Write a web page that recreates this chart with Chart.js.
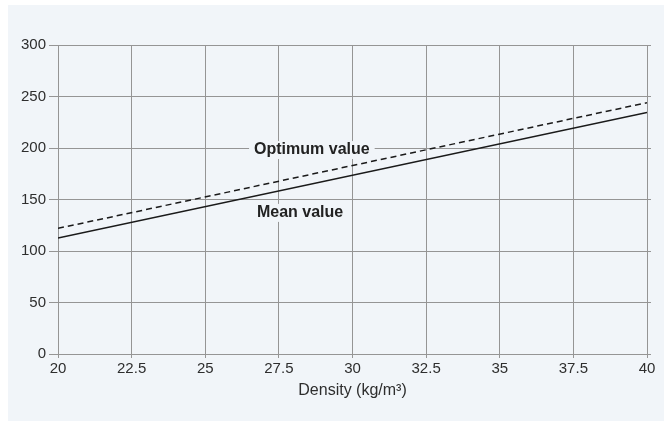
<!DOCTYPE html>
<html lang="en">
<head>
    <meta charset="UTF-8">
    <title>Density chart</title>
    <script src="https://cdn.jsdelivr.net/npm/chart.js"></script>
    <style>
        body {
            margin: 0;
            background: #ffffff;
        }
        canvas {
            display: block;
        }
    </style>
</head>
<body>
    <canvas id="densityChart" width="672" height="421"></canvas>

    <script>
        // Data
        const densities = [20, 40];
        const optimumValues = [122, 244];
        const meanValues = [112.5, 234.5];

        const xTicks = [20, 22.5, 25, 27.5, 30, 32.5, 35, 37.5, 40];
        const yTicks = [0, 50, 100, 150, 200, 250, 300];

        // Text labels placed in data units
        const lineLabels = [
            { text: 'Optimum value', x: 28.62, y: 198 },
            { text: 'Mean value', x: 28.22, y: 137 }
        ];

        const panelColor = '#f1f5f9';
        const gridColor = '#959595';
        const textColor = '#2e2e2e';

        // Light panel behind the whole chart
        const panelPlugin = {
            id: 'panel',
            beforeDraw(chart) {
                const ctx = chart.ctx;
                ctx.save();
                ctx.fillStyle = panelColor;
                ctx.fillRect(8, 5, 656, 416);
                ctx.restore();
            }
        };

        // Bold labels next to the lines
        const labelPlugin = {
            id: 'lineLabels',
            afterDatasetsDraw(chart) {
                const ctx = chart.ctx;
                const xs = chart.scales.x;
                const ys = chart.scales.y;
                ctx.save();
                ctx.font = 'bold 16px "Liberation Sans", Arial, sans-serif';
                ctx.textAlign = 'center';
                ctx.textBaseline = 'middle';
                lineLabels.forEach(l => {
                    const px = xs.getPixelForValue(l.x);
                    const py = ys.getPixelForValue(l.y);
                    const w = ctx.measureText(l.text).width;
                    ctx.fillStyle = panelColor;
                    ctx.fillRect(px - w / 2 - 5, py - 9, w + 10, 18);
                    ctx.fillStyle = '#222222';
                    ctx.fillText(l.text, px, py);
                });
                ctx.restore();
            }
        };

        const ctx = document.getElementById('densityChart').getContext('2d');

        new Chart(ctx, {
            type: 'line',
            data: {
                datasets: [
                    {
                        label: 'Optimum value',
                        data: densities.map((d, i) => ({ x: d, y: optimumValues[i] })),
                        borderColor: '#1a1a1a',
                        borderWidth: 1.5,
                        borderDash: [6, 4],
                        pointRadius: 0,
                        fill: false
                    },
                    {
                        label: 'Mean value',
                        data: densities.map((d, i) => ({ x: d, y: meanValues[i] })),
                        borderColor: '#1a1a1a',
                        borderWidth: 1.5,
                        pointRadius: 0,
                        fill: false
                    }
                ]
            },
            options: {
                responsive: false,
                animation: false,
                layout: {
                    padding: { left: 0, right: 21, top: 45, bottom: 0 }
                },
                plugins: {
                    legend: { display: false },
                    tooltip: { enabled: false }
                },
                scales: {
                    x: {
                        type: 'linear',
                        min: 20,
                        max: 40,
                        afterBuildTicks(scale) {
                            scale.ticks = xTicks.map(v => ({ value: v }));
                        },
                        afterFit(scale) {
                            scale.height = 67;
                        },
                        ticks: {
                            color: textColor,
                            padding: 2,
                            maxRotation: 0,
                            font: { family: '"Liberation Sans", Arial, sans-serif', size: 15 },
                            callback: v => String(v)
                        },
                        grid: {
                            color: gridColor,
                            lineWidth: 1,
                            tickLength: 4
                        },
                        border: { color: gridColor },
                        title: {
                            display: true,
                            text: 'Density (kg/m³)',
                            color: textColor,
                            font: { family: '"Liberation Sans", Arial, sans-serif', size: 16 },
                            padding: { top: 0, bottom: 21 }
                        }
                    },
                    y: {
                        min: 0,
                        max: 300,
                        afterBuildTicks(scale) {
                            scale.ticks = yTicks.map(v => ({ value: v }));
                        },
                        afterFit(scale) {
                            scale.width = 58;
                        },
                        ticks: {
                            color: textColor,
                            padding: 3,
                            font: { family: '"Liberation Sans", Arial, sans-serif', size: 15 }
                        },
                        grid: {
                            color: gridColor,
                            lineWidth: 1,
                            tickLength: 9
                        },
                        border: { color: gridColor }
                    },
                    y2: {
                        position: 'right',
                        min: 0,
                        max: 300,
                        afterBuildTicks(scale) {
                            scale.ticks = yTicks.map(v => ({ value: v }));
                        },
                        afterFit(scale) {
                            scale.width = 4;
                        },
                        ticks: { display: false },
                        grid: {
                            color: gridColor,
                            drawOnChartArea: false,
                            tickLength: 4
                        },
                        border: { display: false }
                    }
                }
            },
            plugins: [panelPlugin, labelPlugin]
        });
    </script>
</body>
</html>
